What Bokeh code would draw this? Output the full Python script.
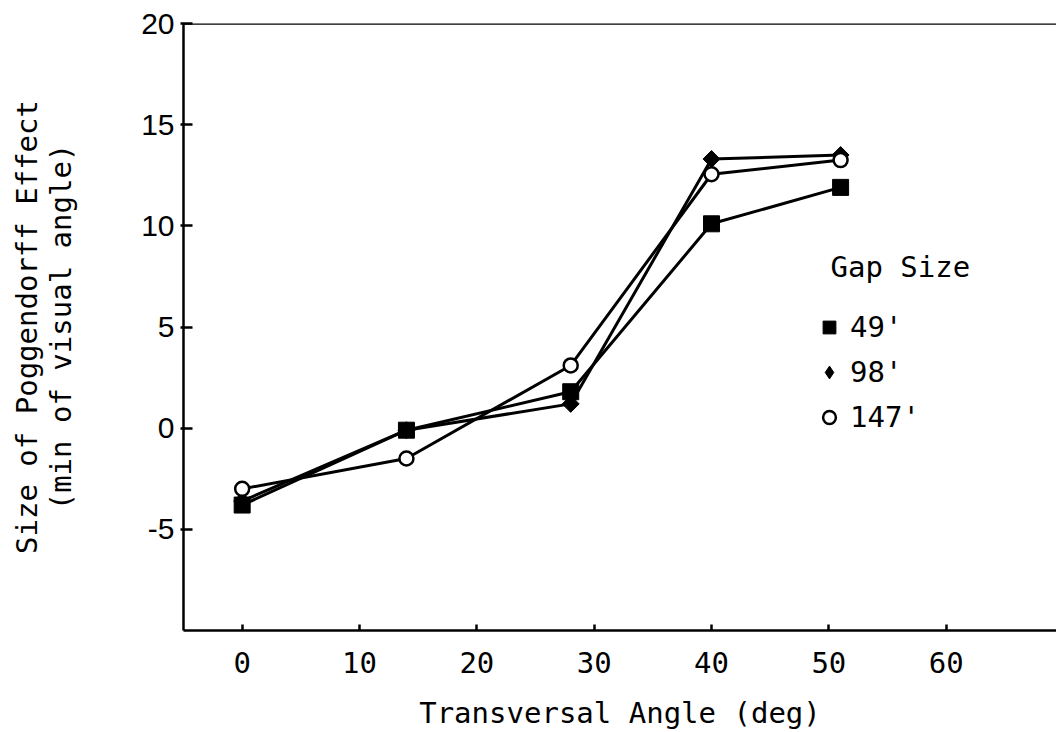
import math
from bokeh.plotting import figure
from bokeh.models import (FixedTicker, Range1d, Legend, LegendItem, Span, Label)
from bokeh.embed import file_html
from bokeh.resources import INLINE

# data
angles = [0, 14, 28, 40, 51]
gap_49 = [-3.8, -0.1, 1.8, 10.1, 11.9]
gap_98 = [-3.6, -0.1, 1.2, 13.3, 13.5]
gap_147 = [-3.0, -1.5, 3.1, 12.55, 13.25]
x_ticks = [0, 10, 20, 30, 40, 50, 60]
y_ticks = [-5, 0, 5, 10, 15, 20]
legend_title = "Gap Size"
labels = ["49'", "98'", "147'"]

MONO = "DejaVu Sans Mono"

p = figure(width=1056, height=732, output_backend="svg", toolbar_location=None,
           x_range=Range1d(-5, 69.4), y_range=Range1d(-10, 20),
           min_border_left=183, min_border_right=0, min_border_top=23,
           min_border_bottom=102)
p.background_fill_color = "white"
p.border_fill_color = "white"
p.outline_line_color = None
p.grid.visible = False

# top border of the frame
p.add_layout(Span(location=20, dimension="width", line_color="black",
                  line_width=2.5))

xa = p.below[0]
xa.ticker = FixedTicker(ticks=x_ticks)
xa.axis_label = "Transversal Angle (deg)"
xa.axis_label_text_font = MONO
xa.axis_label_text_font_size = "29px"
xa.axis_label_text_font_style = "normal"
xa.axis_label_text_color = "black"
xa.axis_label_standoff = 20
xa.major_label_text_font = MONO
xa.major_label_text_font_size = "29px"
xa.major_label_text_color = "black"
xa.major_label_standoff = 21
xa.major_tick_in = 6
xa.major_tick_out = 0
xa.minor_tick_line_color = None
xa.axis_line_width = 2.5
xa.major_tick_line_width = 2.5

ya = p.left[0]
ya.ticker = FixedTicker(ticks=y_ticks)
ya.major_label_overrides = {t: str(t) for t in y_ticks}
ya.axis_label = "Size of Poggendorff Effect\n(min of visual angle)"
ya.axis_label_text_font = MONO
ya.axis_label_text_font_size = "29px"
ya.axis_label_text_font_style = "normal"
ya.axis_label_text_color = "black"
ya.axis_label_text_line_height = 1.0
ya.axis_label_standoff = 60
ya.major_label_text_font = "Liberation Sans"
ya.major_label_text_font_size = "30px"
ya.major_label_text_color = "black"
ya.major_label_standoff = 6
ya.major_tick_in = 9
ya.major_tick_out = 3
ya.minor_tick_line_color = None
ya.axis_line_width = 2.5
ya.major_tick_line_width = 2.5

for ys in (gap_49, gap_98, gap_147):
    p.line(angles, ys, line_color="black", line_width=3)

r49 = p.scatter(angles, gap_49, marker="square", size=16, fill_color="black",
                line_color="black")
# narrow diamond (used as the legend key), covered by a rotated square
r98 = p.scatter(angles, gap_98, marker="diamond", size=16, fill_color="black",
                line_color="black")
p.scatter(angles, gap_98, marker="square", size=12, angle=math.pi / 4,
          fill_color="black", line_color="black")
r147 = p.scatter(angles, gap_147, marker="circle", size=14, fill_color="white",
                 line_color="black", line_width=2.5)

# legend title as a label (frame-relative screen units)
p.add_layout(Label(x=647, y=364, x_units="screen", y_units="screen",
                   text=legend_title, text_font=MONO, text_font_size="29px",
                   text_color="black", text_baseline="middle"))

legend = Legend(items=[LegendItem(label=labels[0], renderers=[r49]),
                       LegendItem(label=labels[1], renderers=[r98]),
                       LegendItem(label=labels[2], renderers=[r147])],
                location=(630, 193))
legend.label_text_font = MONO
legend.label_text_font_size = "29px"
legend.label_text_color = "black"
legend.label_standoff = 5
legend.label_height = 40
legend.glyph_height = 32
legend.glyph_width = 32
legend.spacing = 5
legend.padding = 0
legend.margin = 0
legend.border_line_color = None
legend.background_fill_alpha = 0
p.add_layout(legend)

open("out.html", "w").write(file_html(p, INLINE))
